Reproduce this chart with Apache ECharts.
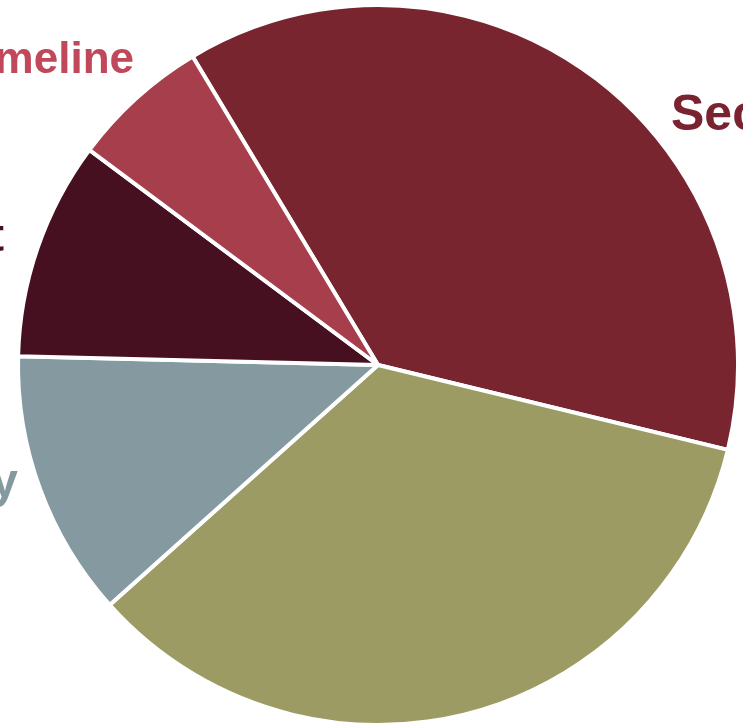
<!DOCTYPE html>
<html>
<head>
<meta charset="utf-8">
<script src="https://cdn.jsdelivr.net/npm/echarts@6/dist/echarts.min.js"></script>
<style>
html,body{margin:0;padding:0;background:#fff;}
#chart{width:743px;height:728px;}
</style>
</head>
<body>
<div id="chart"></div>
<script>
// Data (clockwise from the top-left boundary)
const categories = ["Security", "Scope", "Quality", "Budget", "Timeline"];
const values = [37.4, 34.6, 12.0, 9.8, 6.2];
const sliceColors = ["#78252F", "#9C9B63", "#8599A0", "#461020", "#A63E4B"];
const labelColors = ["#7A2330", "#9C9B63", "#8599A0", "#461020", "#C0485A"];

const labelFont = [50, 44, 48, 46, 44];
const labelShow = [true, false, true, true, true];
// label anchor positions (x, y) and alignment
const labelAnchor = [
  {x: 671, y: 116, align: 'left'},
  {x: 0, y: 800, align: 'left'},
  {x: 18, y: 484, align: 'right'},
  {x: 4, y: 238, align: 'right'},
  {x: 134, y: 61, align: 'right'}
];

const chart = echarts.init(document.getElementById('chart'), null, {renderer: 'canvas'});
chart.setOption({
  backgroundColor: '#ffffff',
  animation: false,
  series: [{
    type: 'pie',
    center: [378, 365],
    radius: [0, 360],
    startAngle: 121,
    clockwise: true,
    avoidLabelOverlap: false,
    itemStyle: {borderColor: '#ffffff', borderWidth: 4},
    labelLine: {show: false},
    label: {
      show: true,
      position: 'outside',
      fontFamily: '"Liberation Sans", Arial, sans-serif',
      fontWeight: 'bold'
    },
    labelLayout: function (p) {
      const a = labelAnchor[p.dataIndex];
      return {x: a.x, y: a.y, align: a.align, verticalAlign: 'middle'};
    },
    data: categories.map((c, i) => ({
      name: c,
      value: values[i],
      itemStyle: {color: sliceColors[i]},
      label: {show: labelShow[i], color: labelColors[i], fontSize: labelFont[i]}
    }))
  }]
});
</script>
</body>
</html>
